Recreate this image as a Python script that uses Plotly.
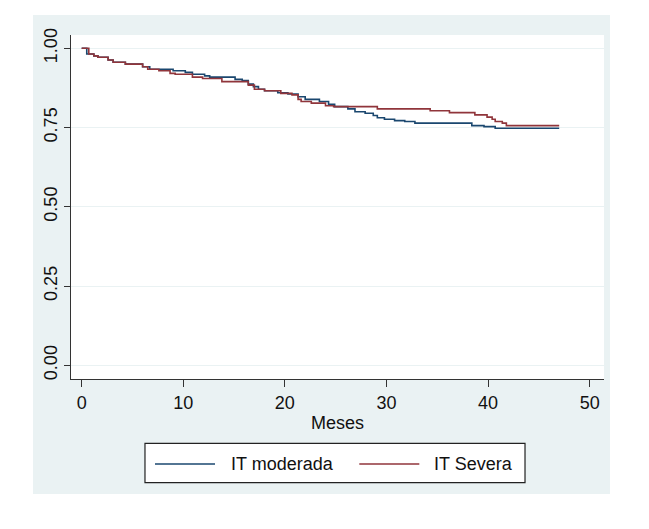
import plotly.graph_objects as go

# Kaplan-Meier estimates (step times in months, survival after each step)
mod_t = [0, 0.5, 1.2, 1.6, 2.6, 3.1, 4.3, 6.0, 6.7, 9.0, 10.2, 10.9, 12.1, 12.6,
         15.1, 15.8, 16.4, 16.9, 17.4, 18.0, 19.3, 20.3, 21.3, 22.0, 23.4, 24.3,
         24.9, 26.2, 26.9, 27.9, 28.7, 29.1, 29.8, 30.8, 31.8, 32.8, 38.4, 39.6,
         40.7, 47.0]
mod_s = [1.0, 0.982, 0.976, 0.972, 0.963, 0.956, 0.950, 0.942, 0.934, 0.929,
         0.924, 0.918, 0.913, 0.909, 0.902, 0.898, 0.887, 0.879, 0.871, 0.866,
         0.860, 0.856, 0.847, 0.839, 0.832, 0.823, 0.816, 0.809, 0.800, 0.795,
         0.788, 0.781, 0.776, 0.772, 0.769, 0.764, 0.756, 0.753, 0.748, 0.748]

sev_t = [0, 0.7, 1.2, 1.6, 2.6, 3.1, 4.3, 6.0, 6.5, 7.6, 8.7, 9.2, 10.9, 11.9,
         13.8, 16.4, 17.0, 18.0, 19.6, 20.7, 21.3, 21.6, 22.6, 24.0, 24.8, 29.1,
         34.3, 36.2, 38.7, 39.9, 40.4, 40.7, 41.4, 41.8, 47.0]
sev_s = [1.0, 0.982, 0.976, 0.972, 0.963, 0.956, 0.950, 0.942, 0.934, 0.929,
         0.921, 0.918, 0.909, 0.905, 0.895, 0.884, 0.871, 0.866, 0.858, 0.853,
         0.839, 0.832, 0.827, 0.819, 0.816, 0.809, 0.803, 0.797, 0.790, 0.783,
         0.776, 0.769, 0.764, 0.756, 0.756]

x_ticks = [0, 10, 20, 30, 40, 50]
y_ticks = [0, 0.25, 0.5, 0.75, 1.0]
y_labels = ["0.00", "0.25", "0.50", "0.75", "1.00"]
names = ["IT moderada", "IT Severa"]
colors = ["#1A476F", "#90353B"]

BG = "#EAF2F3"
FONT = "Liberation Sans, Arial, sans-serif"
FS = 18

fig = go.Figure()
fig.add_trace(go.Scatter(x=mod_t, y=mod_s, mode="lines", line_shape="hv",
                         name=names[0], line=dict(color=colors[0], width=1.6)))
fig.add_trace(go.Scatter(x=sev_t, y=sev_s, mode="lines", line_shape="hv",
                         name=names[1], line=dict(color=colors[1], width=1.6)))

shapes = []
# white page outside the bluish graph region
for x0, x1, y0, y1 in [(-0.3, -0.0713, -0.6, 1.3), (1.0113, 1.3, -0.6, 1.3),
                       (-0.3, 1.3, 1.0581, 1.3), (-0.3, 1.3, -0.6, -0.3343)]:
    shapes.append(dict(type="rect", xref="paper", yref="paper", x0=x0, x1=x1,
                       y0=y0, y1=y1, fillcolor="white", line=dict(width=0),
                       layer="below"))
# legend box
shapes.append(dict(type="rect", xref="paper", yref="paper", x0=0.1388, x1=0.8518,
                   y0=-0.3015, y1=-0.1869, fillcolor="white",
                   line=dict(color="#222222", width=1.2)))
leg_y = -0.2471
shapes.append(dict(type="line", xref="paper", yref="paper", x0=0.1576, x1=0.2702,
                   y0=leg_y, y1=leg_y, line=dict(color=colors[0], width=1.6)))
shapes.append(dict(type="line", xref="paper", yref="paper", x0=0.5409, x1=0.6535,
                   y0=leg_y, y1=leg_y, line=dict(color=colors[1], width=1.6)))

annotations = [
    dict(text=names[0], xref="paper", yref="paper", x=0.297, y=leg_y,
         xanchor="left", yanchor="middle", showarrow=False,
         font=dict(family=FONT, size=FS, color="#111111")),
    dict(text=names[1], xref="paper", yref="paper", x=0.677, y=leg_y,
         xanchor="left", yanchor="middle", showarrow=False,
         font=dict(family=FONT, size=FS, color="#111111")),
]

fig.update_layout(
    width=641, height=521,
    margin=dict(l=63, r=45, t=27, b=150),
    paper_bgcolor=BG, plot_bgcolor="white",
    showlegend=False,
    shapes=shapes, annotations=annotations,
    font=dict(family=FONT, size=FS, color="#111111"),
    xaxis=dict(range=[-1.05, 51.41], tickvals=x_ticks, showgrid=False,
               zeroline=False, showline=True, linecolor="#333333", linewidth=1.2,
               ticks="outside", ticklen=7, tickcolor="#333333", tickwidth=1.2,
               tickfont=dict(size=FS),
               title=dict(text="Meses", font=dict(size=FS), standoff=4)),
    yaxis=dict(range=[-0.0432, 1.042], tickvals=y_ticks, ticktext=y_labels,
               showgrid=True, gridcolor=BG, gridwidth=1.2, zeroline=False,
               showline=True, linecolor="#333333", linewidth=1.2,
               ticks="outside", ticklen=6, tickcolor="#333333", tickwidth=1.2,
               tickangle=-90, tickfont=dict(size=FS)),
)

fig.write_html("out.html")
